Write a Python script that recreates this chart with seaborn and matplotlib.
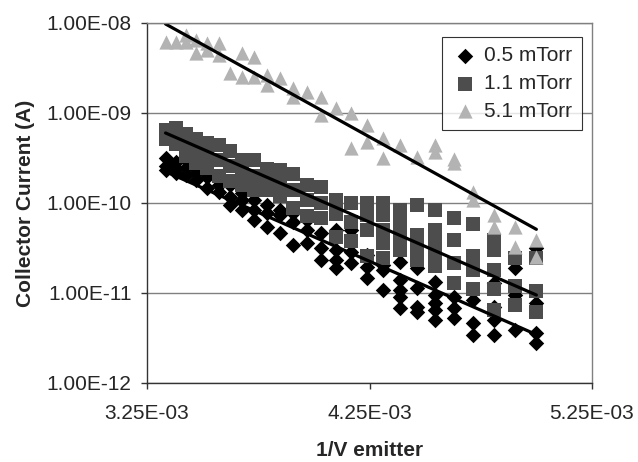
"""Collector current vs inverse emitter voltage for three chamber pressures."""

import matplotlib
matplotlib.use("Agg")
import matplotlib.pyplot as plt
import matplotlib.ticker as mticker
import numpy as np
import pandas as pd
import seaborn as sns


LABELS = ["0.5 mTorr", "1.1 mTorr", "5.1 mTorr"]

# 0.5 mTorr: emitter voltage (V) and collector current (A)
V_05 = [
    300, 300, 300, 296, 296, 296, 292, 292, 292, 288, 288, 288,
    284, 284, 284, 280, 280, 280, 276, 276, 276, 272, 272, 272,
    268, 268, 268, 264, 264, 264, 260, 260, 260, 256, 256, 256,
    252, 252, 252, 248, 248, 248, 244, 244, 244, 244, 240, 240, 240,
    236, 236, 236, 232, 232, 232, 228, 228, 228, 228, 228,
    224, 224, 224, 224, 220, 220, 220, 220, 220, 216, 216, 216,
    212, 212, 212, 208, 208, 208, 208, 204, 204, 204, 200, 200, 200, 200,
]
I_05 = [
    3.2e-10, 2.6e-10, 2.3e-10, 2.85e-10, 2.45e-10, 2.15e-10, 3.0e-10, 2.45e-10, 2.05e-10, 2.45e-10, 2.15e-10, 1.8e-10,
    2.2e-10, 1.95e-10, 1.47e-10, 1.9e-10, 1.58e-10, 1.33e-10, 1.58e-10, 1.17e-10, 9.5e-11, 1.29e-10, 1.08e-10, 8.4e-11,
    1.08e-10, 8.4e-11, 6.5e-11, 9.5e-11, 7.7e-11, 5.4e-11, 8.4e-11, 7.4e-11, 4.6e-11, 7.7e-11, 6.2e-11, 3.4e-11,
    6.5e-11, 5.0e-11, 3.6e-11, 4.6e-11, 3.2e-11, 2.3e-11, 5.0e-11, 3.0e-11, 2.3e-11, 1.9e-11, 5.0e-11, 2.85e-11, 2.15e-11,
    2.65e-11, 1.95e-11, 1.47e-11, 2.05e-11, 1.8e-11, 1.08e-11, 2.2e-11, 1.4e-11, 1.08e-11, 9.0e-12, 6.8e-12,
    1.9e-11, 1.14e-11, 7.0e-12, 6.2e-12, 1.33e-11, 9.5e-12, 7.7e-12, 6.5e-12, 5.0e-12, 9.0e-12, 6.8e-12, 5.3e-12,
    8.4e-12, 4.6e-12, 3.4e-12, 1.29e-11, 7.0e-12, 5.0e-12, 3.4e-12, 1.9e-11, 9.5e-12, 3.9e-12, 3.2e-11, 7.7e-12, 3.6e-12, 2.8e-12,
]

# 1.1 mTorr
V_11 = [
    300, 300, 296, 296, 296, 292, 292, 292, 288, 288, 288,
    284, 284, 284, 280, 280, 280, 276, 276, 276, 272, 272, 272,
    268, 268, 268, 264, 264, 264, 260, 260, 260, 256, 256, 256,
    252, 252, 252, 248, 248, 248, 244, 244, 244, 240, 240, 240,
    236, 236, 236, 236, 232, 232, 232, 232, 232, 228, 228, 228, 228,
    224, 224, 224, 224, 220, 220, 220, 220, 220, 216, 216, 216, 216,
    212, 212, 212, 212, 208, 208, 208, 208, 208, 204, 204, 204, 200, 200, 200,
]
I_11 = [
    6.5e-10, 5.1e-10, 6.8e-10, 5.3e-10, 4.5e-10, 5.8e-10, 4.4e-10, 3.3e-10, 5.1e-10, 3.9e-10, 2.8e-10,
    4.7e-10, 3.4e-10, 2.45e-10, 4.4e-10, 3.0e-10, 2.0e-10, 3.8e-10, 2.6e-10, 1.75e-10, 3.0e-10, 2.2e-10, 1.6e-10,
    3.0e-10, 2.0e-10, 1.4e-10, 2.4e-10, 1.8e-10, 1.4e-10, 2.35e-10, 1.67e-10, 1.2e-10, 2.1e-10, 1.4e-10, 8.8e-11,
    1.6e-10, 1.08e-10, 7.2e-11, 1.5e-10, 1.0e-10, 6.8e-11, 1.08e-10, 7.6e-11, 4.2e-11, 1.0e-10, 6.2e-11, 3.8e-11,
    1.0e-10, 7.4e-11, 5.0e-11, 2.6e-11, 1.0e-10, 7.4e-11, 5.0e-11, 3.6e-11, 2.45e-11, 8.4e-11, 6.0e-11, 4.2e-11, 3.0e-11,
    9.5e-11, 4.4e-11, 3.2e-11, 2.3e-11, 8.4e-11, 5.0e-11, 3.6e-11, 2.8e-11, 2.0e-11, 6.8e-11, 3.9e-11, 2.15e-11, 1.3e-11,
    5.8e-11, 2.6e-11, 1.8e-11, 1.1e-11, 3.9e-11, 3.0e-11, 1.8e-11, 1.1e-11, 6.5e-12, 2.45e-11, 1.2e-11, 7.3e-12, 2.45e-11, 1.05e-11, 6.1e-12,
]

# 5.1 mTorr
V_51 = [
    300, 296, 292, 292, 288, 288, 284, 284, 280, 280, 276, 272, 272,
    268, 268, 264, 264, 260, 256, 256, 252, 248, 248, 244, 240, 240,
    236, 236, 232, 232, 228, 224, 220, 220, 216, 216, 212, 212,
    208, 208, 204, 204, 200, 200,
]
I_51 = [
    6.15e-9, 6.15e-9, 7.4e-9, 6.15e-9, 6.5e-9, 4.6e-9, 6.0e-9, 5.0e-9, 6.0e-9, 4.4e-9, 2.8e-9, 4.6e-9, 2.5e-9,
    4.2e-9, 2.5e-9, 2.65e-9, 2.05e-9, 2.45e-9, 1.9e-9, 1.5e-9, 1.7e-9, 1.5e-9, 9.5e-10, 1.14e-9, 1.0e-9, 4.1e-10,
    7.4e-10, 4.8e-10, 5.3e-10, 3.2e-10, 4.4e-10, 3.25e-10, 4.4e-10, 3.7e-10, 3.1e-10, 2.8e-10, 1.33e-10, 1.08e-10,
    7.4e-11, 5.4e-11, 5.4e-11, 3.25e-11, 3.9e-11, 2.5e-11,
]

# model curves (end points, straight on log scale)
MODEL_V = [300, 200]
MODEL_05 = [2.23e-10, 3.45e-12]
MODEL_11 = [6.0e-10, 9.5e-12]
MODEL_51 = [9.75e-9, 5.1e-11]

X_TICKS = [3.25e-3, 4.25e-3, 5.25e-3]
Y_TICKS = [1e-12, 1e-11, 1e-10, 1e-9, 1e-8]


def sci_fmt(v, _pos):
    return f"{v:.2E}"


def main() -> None:
    sns.set_style("white")
    plt.rcParams["font.family"] = ["Liberation Sans", "DejaVu Sans"]

    fig = plt.figure(figsize=(6.38, 4.62), dpi=100)
    ax = fig.add_axes([147 / 638, 1 - 383 / 462, 445 / 638, 360 / 462])

    styles = [("D", "#000000", 62), ("s", "#4d4d4d", 100), ("^", "#b3b3b3", 105)]
    for (v, cur), (marker, color, size), label in zip(
        [(V_05, I_05), (V_11, I_11), (V_51, I_51)], styles, LABELS
    ):
        df = pd.DataFrame({"inv_v": 1.0 / np.asarray(v, dtype=float), "current": cur})
        sns.scatterplot(
            data=df, x="inv_v", y="current", marker=marker, color=color,
            s=size, linewidth=0, label=label, ax=ax,
        )

    model_x = 1.0 / np.asarray(MODEL_V, dtype=float)
    for model in (MODEL_05, MODEL_11, MODEL_51):
        sns.lineplot(x=model_x, y=model, color="black", linewidth=2.3, ax=ax, legend=False)

    ax.set_yscale("log")
    ax.set_xlim(3.25e-3, 5.25e-3)
    ax.set_ylim(1e-12, 1e-8)
    ax.set_xticks(X_TICKS)
    ax.set_yticks(Y_TICKS)
    ax.yaxis.set_minor_locator(mticker.NullLocator())
    ax.xaxis.set_major_formatter(mticker.FuncFormatter(sci_fmt))
    ax.yaxis.set_major_formatter(mticker.FuncFormatter(sci_fmt))

    ax.yaxis.grid(True, color="#808080", linewidth=1.0)
    ax.xaxis.grid(False)
    ax.set_axisbelow(True)
    for side in ("left", "bottom"):
        ax.spines[side].set_color("#333333")
        ax.spines[side].set_linewidth(1.0)
    for side in ("top", "right"):
        ax.spines[side].set_color("#808080")
        ax.spines[side].set_linewidth(1.0)

    ax.tick_params(axis="both", which="major", bottom=True, left=True, direction="out",
                   length=4, width=1, color="#333333", labelsize=15, pad=7)
    ax.tick_params(axis="x", pad=11)

    ax.set_xlabel("1/V emitter", fontsize=15, fontweight="bold", labelpad=13)
    ax.set_ylabel("Collector Current (A)", fontsize=15, fontweight="bold", labelpad=8)

    leg = ax.legend(
        loc="upper right", bbox_to_anchor=(0.9775, 0.961), borderaxespad=0,
        frameon=True, fancybox=False, edgecolor="black", fontsize=15,
        handlelength=1.3, handletextpad=0.3, labelspacing=0.42, borderpad=0.45,
    )
    leg.get_frame().set_linewidth(0.8)

    fig.savefig("out.png", dpi=100)
    plt.close(fig)


if __name__ == "__main__":
    main()
